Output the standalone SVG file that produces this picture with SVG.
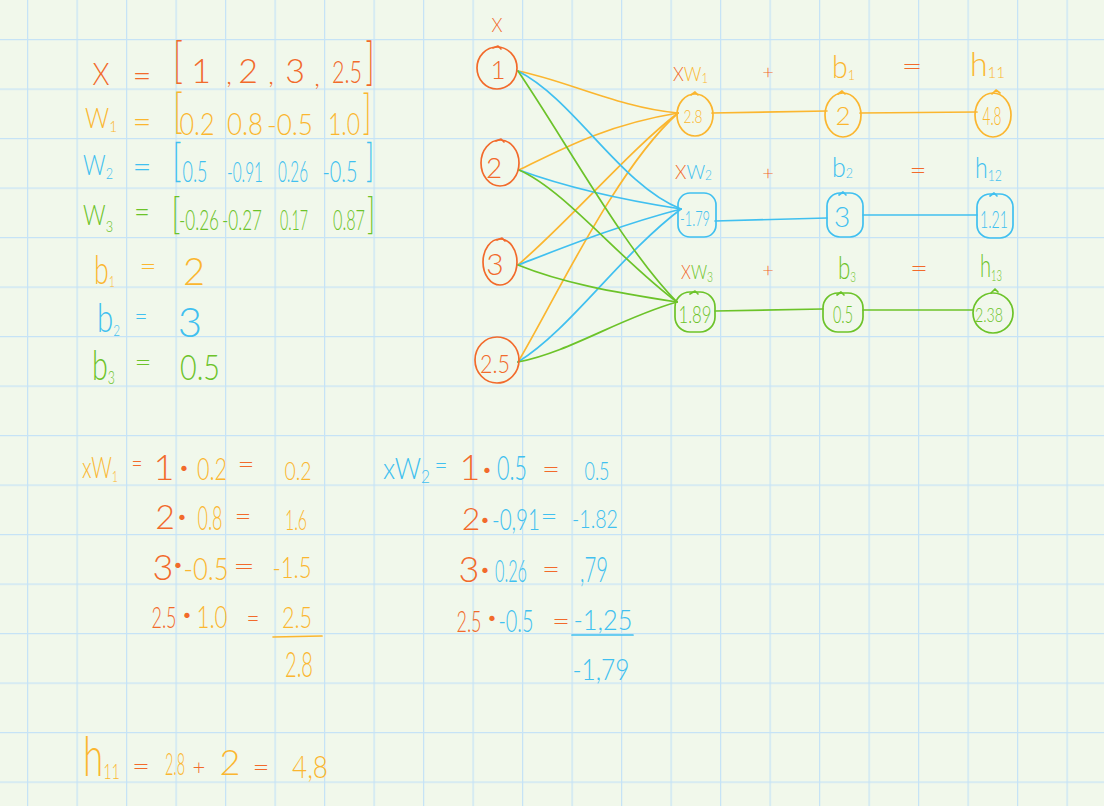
<svg xmlns="http://www.w3.org/2000/svg" width="1104" height="806" viewBox="0 0 1104 806">
<defs>
<pattern id="grid" x="27" y="39" width="49.5" height="49.5" patternUnits="userSpaceOnUse">
<path d="M0.6 0 V49.5 M0 0.6 H49.5" stroke="#c6e3f6" stroke-width="1.3" fill="none"/>
</pattern>
<style>
text{font-family:Lato,"Open Sans","Liberation Sans",sans-serif;font-weight:300}
.o{fill:#f26a2b}.y{fill:#fbb62f}.b{fill:#40c0f0}.g{fill:#6cc329}
.so,.sy,.sb,.sg{fill:none;stroke-width:1.7;stroke-linecap:round;stroke-linejoin:round}
.so{stroke:#f26a2b}.sy{stroke:#fbb62f}.sb{stroke:#40c0f0}.sg{stroke:#6cc329}
.m{text-anchor:middle}
</style>
</defs>
<rect width="1104" height="806" fill="#f1f8eb"/>
<rect width="1104" height="806" fill="url(#grid)"/>

<!-- top-left definitions -->
<g id="defs-x">
<text class="o m" x="101" y="85" font-size="32" textLength="17" lengthAdjust="spacingAndGlyphs">X</text>
<text class="o m" x="142" y="86" font-size="30" textLength="19" lengthAdjust="spacingAndGlyphs">=</text>
<text class="o m" x="178" y="77" font-size="50" textLength="10" lengthAdjust="spacingAndGlyphs">[</text>
<text class="o m" x="201" y="83" font-size="34">1</text>
<text class="o m" x="229" y="84" font-size="26">,</text>
<text class="o m" x="248" y="83" font-size="34">2</text>
<text class="o m" x="271" y="84" font-size="26">,</text>
<text class="o m" x="295" y="83" font-size="34">3</text>
<text class="o m" x="317" y="86" font-size="26">,</text>
<text class="o m" x="347" y="83" font-size="32" textLength="30" lengthAdjust="spacingAndGlyphs">2.5</text>
<text class="o m" x="370" y="79" font-size="52" textLength="9" lengthAdjust="spacingAndGlyphs">]</text>
</g>
<g id="defs-w1">
<text class="y" x="85" y="128" font-size="28" textLength="32" lengthAdjust="spacingAndGlyphs">W<tspan font-size="16" dy="4">1</tspan></text>
<text class="y m" x="142" y="132" font-size="30" textLength="19" lengthAdjust="spacingAndGlyphs">=</text>
<text class="y m" x="178" y="128" font-size="48" textLength="10" lengthAdjust="spacingAndGlyphs">[</text>
<text class="y m" x="197" y="135" font-size="32" textLength="35" lengthAdjust="spacingAndGlyphs">0.2</text>
<text class="y m" x="245" y="135" font-size="32" textLength="36" lengthAdjust="spacingAndGlyphs">0.8</text>
<text class="y m" x="290" y="135" font-size="30" textLength="46" lengthAdjust="spacingAndGlyphs">-0.5</text>
<text class="y m" x="344" y="135" font-size="32" textLength="32" lengthAdjust="spacingAndGlyphs">1.0</text>
<text class="y m" x="367" y="129" font-size="48" textLength="9" lengthAdjust="spacingAndGlyphs">]</text>
</g>
<g id="defs-w2">
<text class="b" x="83" y="175" font-size="28" textLength="30" lengthAdjust="spacingAndGlyphs">W<tspan font-size="16" dy="4">2</tspan></text>
<text class="b m" x="142" y="177" font-size="30" textLength="19" lengthAdjust="spacingAndGlyphs">=</text>
<text class="b m" x="177" y="176" font-size="46" textLength="9" lengthAdjust="spacingAndGlyphs">[</text>
<text class="b m" x="195" y="182" font-size="30" textLength="25" lengthAdjust="spacingAndGlyphs">0.5</text>
<text class="b m" x="245" y="182" font-size="28" textLength="36" lengthAdjust="spacingAndGlyphs">-0.91</text>
<text class="b m" x="293" y="182" font-size="30" textLength="30" lengthAdjust="spacingAndGlyphs">0.26</text>
<text class="b m" x="340" y="182" font-size="30" textLength="35" lengthAdjust="spacingAndGlyphs">-0.5</text>
<text class="b m" x="370" y="176" font-size="46" textLength="8" lengthAdjust="spacingAndGlyphs">]</text>
</g>
<g id="defs-w3">
<text class="g" x="83" y="225" font-size="28" textLength="30" lengthAdjust="spacingAndGlyphs">W<tspan font-size="16" dy="7">3</tspan></text>
<text class="g m" x="142" y="222" font-size="30" textLength="16" lengthAdjust="spacingAndGlyphs">=</text>
<text class="g m" x="176" y="229" font-size="44" textLength="9" lengthAdjust="spacingAndGlyphs">[</text>
<text class="g m" x="199" y="230" font-size="28" textLength="40" lengthAdjust="spacingAndGlyphs">-0.26</text>
<text class="g m" x="242" y="230" font-size="28" textLength="40" lengthAdjust="spacingAndGlyphs">-0.27</text>
<text class="g m" x="294" y="230" font-size="28" textLength="28" lengthAdjust="spacingAndGlyphs">0.17</text>
<text class="g m" x="349" y="230" font-size="28" textLength="32" lengthAdjust="spacingAndGlyphs">0.87</text>
<text class="g m" x="371" y="229" font-size="44" textLength="8" lengthAdjust="spacingAndGlyphs">]</text>
</g>
<g id="defs-b">
<text class="y" x="94" y="284" font-size="40" textLength="21" lengthAdjust="spacingAndGlyphs">b<tspan font-size="16" dy="3">1</tspan></text>
<text class="y m" x="148" y="276" font-size="28" textLength="17" lengthAdjust="spacingAndGlyphs">=</text>
<text class="y m" x="194" y="285" font-size="38">2</text>
<text class="b" x="97" y="332" font-size="40" textLength="23" lengthAdjust="spacingAndGlyphs">b<tspan font-size="16" dy="4">2</tspan></text>
<text class="b m" x="141" y="326" font-size="28" textLength="13" lengthAdjust="spacingAndGlyphs">=</text>
<text class="b m" x="190" y="337" font-size="42">3</text>
<text class="g" x="92" y="380" font-size="42" textLength="23" lengthAdjust="spacingAndGlyphs">b<tspan font-size="18" dy="4">3</tspan></text>
<text class="g m" x="143" y="372" font-size="28" textLength="17" lengthAdjust="spacingAndGlyphs">=</text>
<text class="g m" x="200" y="380" font-size="36" textLength="40" lengthAdjust="spacingAndGlyphs">0.5</text>
</g>

<!-- connectors -->
<g id="connectors">
<path class="sy" d="M518 71 C565 80 620 108 678 113"/>
<path class="sy" d="M519 170 C560 150 605 125 678 113"/>
<path class="sy" d="M518 265 C575 215 630 150 678 113"/>
<path class="sy" d="M518 362 C555 300 615 170 678 113"/>
<path class="sb" d="M518 71 C575 100 620 185 681 209"/>
<path class="sb" d="M519 170 C560 185 610 198 681 209"/>
<path class="sb" d="M518 265 C570 245 620 225 681 209"/>
<path class="sb" d="M518 362 C570 330 620 255 681 209"/>
<path class="sg" d="M518 71 C565 140 625 250 677 302"/>
<path class="sg" d="M519 170 C565 190 620 260 677 302"/>
<path class="sg" d="M518 265 C560 282 610 292 677 302"/>
<path class="sg" d="M518 362 C570 352 620 318 677 302"/>
<path class="sy" d="M712 113 L827 111"/>
<path class="sy" d="M860 113 L977 112"/>
<path class="sb" d="M715 221 L827 218"/>
<path class="sb" d="M863 215 L977 215"/>
<path class="sg" d="M715 311 L823 309"/>
<path class="sg" d="M863 310 L973 310"/>
</g>

<!-- input nodes -->
<text class="o m" x="497" y="32" font-size="20" textLength="11" lengthAdjust="spacingAndGlyphs">X</text>
<g id="in1">
<ellipse class="so" cx="497" cy="68" rx="20" ry="21"/>
<path class="so" d="M493 48 l5 -2 l3 3"/>
<text class="o m" x="498" y="79" font-size="26">1</text>
</g>
<g id="in2">
<ellipse class="so" cx="500" cy="163" rx="19" ry="23"/>
<path class="so" d="M496 141 l5 -2 l3 3"/>
<text class="o m" x="494" y="178" font-size="28">2</text>
</g>
<g id="in3">
<ellipse class="so" cx="500" cy="262" rx="17" ry="23"/>
<path class="so" d="M497 240 l5 -2 l3 3"/>
<text class="o m" x="495" y="275" font-size="30">3</text>
</g>
<g id="in4">
<ellipse class="so" cx="497" cy="360" rx="22" ry="23"/>
<text class="o m" x="495" y="373" font-size="26" textLength="30" lengthAdjust="spacingAndGlyphs">2.5</text>
</g>

<!-- hidden row labels -->
<g id="labels">
<text x="673" y="81" font-size="20" textLength="35" lengthAdjust="spacingAndGlyphs"><tspan class="o">X</tspan><tspan class="y">W</tspan><tspan class="y" font-size="13" dy="2">1</tspan></text>
<text class="o m" x="768" y="79" font-size="20">+</text>
<text x="832" y="78" font-size="32" textLength="23" lengthAdjust="spacingAndGlyphs" class="y">b<tspan font-size="14" dy="2">1</tspan></text>
<text class="o m" x="912" y="75" font-size="26" textLength="21" lengthAdjust="spacingAndGlyphs">=</text>
<text x="970" y="76" font-size="34" textLength="35" lengthAdjust="spacingAndGlyphs" class="y">h<tspan font-size="16" dy="2">11</tspan></text>

<text x="675" y="179" font-size="20" textLength="37" lengthAdjust="spacingAndGlyphs"><tspan class="o">X</tspan><tspan class="b">W</tspan><tspan class="b" font-size="13" dy="1">2</tspan></text>
<text class="o m" x="768" y="180" font-size="20">+</text>
<text x="832" y="177" font-size="28" textLength="21" lengthAdjust="spacingAndGlyphs" class="b">b<tspan font-size="14" dy="1">2</tspan></text>
<text class="o m" x="918" y="179" font-size="24" textLength="17" lengthAdjust="spacingAndGlyphs">=</text>
<text x="975" y="178" font-size="30" textLength="27" lengthAdjust="spacingAndGlyphs" class="b">h<tspan font-size="16" dy="3">12</tspan></text>

<text x="681" y="279" font-size="20" textLength="32" lengthAdjust="spacingAndGlyphs"><tspan class="o">X</tspan><tspan class="g">W</tspan><tspan class="g" font-size="13" dy="3">3</tspan></text>
<text class="o m" x="768" y="277" font-size="20">+</text>
<text x="838" y="279" font-size="32" textLength="18" lengthAdjust="spacingAndGlyphs" class="g">b<tspan font-size="14" dy="3">3</tspan></text>
<text class="o m" x="919" y="277" font-size="24" textLength="18" lengthAdjust="spacingAndGlyphs">=</text>
<text x="980" y="277" font-size="32" textLength="22" lengthAdjust="spacingAndGlyphs" class="g">h<tspan font-size="15" dy="4">13</tspan></text>
</g>

<!-- hidden / bias / output nodes -->
<g id="xw1">
<ellipse class="sy" cx="695" cy="115" rx="18" ry="21"/>
<path class="sy" d="M691 95 l4 -3 l3 3"/>
<text class="y m" x="693" y="123" font-size="18" textLength="19" lengthAdjust="spacingAndGlyphs">2.8</text>
</g>
<g id="xw2">
<rect class="sb" x="678" y="193" width="38" height="44" rx="12"/>
<text class="b m" x="695" y="226" font-size="22" textLength="30" lengthAdjust="spacingAndGlyphs">-1.79</text>
</g>
<g id="xw3">
<rect class="sg" x="675" y="292" width="40" height="40" rx="15"/>
<path class="sg" d="M690 294 l5 -3 l3 3"/>
<text class="g m" x="695" y="323" font-size="24" textLength="33" lengthAdjust="spacingAndGlyphs">1.89</text>
</g>
<g id="b1">
<ellipse class="sy" cx="843" cy="115" rx="18" ry="22"/>
<path class="sy" d="M838 94 l4 -3 l3 3"/>
<text class="y m" x="843" y="125" font-size="26">2</text>
</g>
<g id="b2">
<rect class="sb" x="827" y="193" width="36" height="44" rx="13"/>
<path class="sb" d="M839 195 l4 -3 l3 3"/>
<text class="b m" x="842" y="227" font-size="28">3</text>
</g>
<g id="b3">
<rect class="sg" x="823" y="293" width="40" height="39" rx="15"/>
<path class="sg" d="M837 295 l4 -3 l3 3"/>
<text class="g m" x="843" y="323" font-size="24" textLength="20" lengthAdjust="spacingAndGlyphs">0.5</text>
</g>
<g id="h11">
<ellipse class="sy" cx="993" cy="115" rx="18" ry="22"/>
<path class="sy" d="M992 94 l4 -4 l4 3"/>
<text class="y m" x="992" y="125" font-size="26" textLength="19" lengthAdjust="spacingAndGlyphs">4.8</text>
</g>
<g id="h12">
<rect class="sb" x="977" y="194" width="36" height="44" rx="13"/>
<path class="sb" d="M990 196 l4 -3 l3 3"/>
<text class="b m" x="994" y="228" font-size="24" textLength="28" lengthAdjust="spacingAndGlyphs">1.21</text>
</g>
<g id="h13">
<ellipse class="sg" cx="993" cy="313" rx="20" ry="20"/>
<path class="sg" d="M991 293 l4 -4 l3 3"/>
<text class="g m" x="989" y="322" font-size="20" textLength="28" lengthAdjust="spacingAndGlyphs">2.38</text>
</g>

<!-- xW1 calculation -->
<g id="calc-w1">
<text x="82" y="478" font-size="30" textLength="36" lengthAdjust="spacingAndGlyphs" class="y">xW<tspan font-size="16" dy="4">1</tspan></text>
<text class="o m" x="137" y="472" font-size="26" textLength="11" lengthAdjust="spacingAndGlyphs">=</text>
<text class="o m" x="164" y="480" font-size="36">1</text>
<text class="o m" x="184" y="474" font-size="18">•</text>
<text class="y m" x="212" y="480" font-size="32" textLength="30" lengthAdjust="spacingAndGlyphs">0.2</text>
<text class="o m" x="246" y="474" font-size="28" textLength="17" lengthAdjust="spacingAndGlyphs">=</text>
<text class="y m" x="298" y="480" font-size="26" textLength="27" lengthAdjust="spacingAndGlyphs">0.2</text>

<text class="o m" x="165" y="529" font-size="34">2</text>
<text class="o m" x="182" y="523" font-size="18">•</text>
<text class="y m" x="210" y="530" font-size="34" textLength="25" lengthAdjust="spacingAndGlyphs">0.8</text>
<text class="o m" x="243" y="526" font-size="28" textLength="17" lengthAdjust="spacingAndGlyphs">=</text>
<text class="y m" x="296" y="530" font-size="28" textLength="22" lengthAdjust="spacingAndGlyphs">1.6</text>

<text class="o m" x="163" y="580" font-size="36">3</text>
<text class="o m" x="178" y="571" font-size="18">•</text>
<text class="y m" x="206" y="580" font-size="32" textLength="45" lengthAdjust="spacingAndGlyphs">-0.5</text>
<text class="o m" x="244" y="576" font-size="28" textLength="22" lengthAdjust="spacingAndGlyphs">=</text>
<text class="y m" x="292" y="578" font-size="30" textLength="39" lengthAdjust="spacingAndGlyphs">-1.5</text>

<text class="o m" x="164" y="628" font-size="30" textLength="25" lengthAdjust="spacingAndGlyphs">2.5</text>
<text class="o m" x="187" y="621" font-size="18">•</text>
<text class="y m" x="212" y="628" font-size="32" textLength="31" lengthAdjust="spacingAndGlyphs">1.0</text>
<text class="o m" x="253" y="627" font-size="26" textLength="13" lengthAdjust="spacingAndGlyphs">=</text>
<text class="y m" x="297" y="628" font-size="30" textLength="30" lengthAdjust="spacingAndGlyphs">2.5</text>
<path class="sy" d="M273 637 L322 636"/>
<text class="y m" x="299" y="677" font-size="36" textLength="28" lengthAdjust="spacingAndGlyphs">2.8</text>
</g>

<!-- xW2 calculation -->
<g id="calc-w2">
<text x="383" y="479" font-size="30" textLength="47" lengthAdjust="spacingAndGlyphs" class="b">xW<tspan font-size="18" dy="4">2</tspan></text>
<text class="b m" x="441" y="474" font-size="26" textLength="13" lengthAdjust="spacingAndGlyphs">=</text>
<text class="o m" x="470" y="480" font-size="36">1</text>
<text class="o m" x="487" y="476" font-size="18">•</text>
<text class="b m" x="512" y="480" font-size="34" textLength="30" lengthAdjust="spacingAndGlyphs">0.5</text>
<text class="o m" x="551" y="479" font-size="28" textLength="18" lengthAdjust="spacingAndGlyphs">=</text>
<text class="b m" x="597" y="480" font-size="26" textLength="25" lengthAdjust="spacingAndGlyphs">0.5</text>

<text class="o m" x="471" y="530" font-size="32">2</text>
<text class="o m" x="485" y="526" font-size="18">•</text>
<text class="b m" x="516" y="530" font-size="30" textLength="48" lengthAdjust="spacingAndGlyphs">-0,91</text>
<text class="b m" x="549" y="526" font-size="28" textLength="17" lengthAdjust="spacingAndGlyphs">=</text>
<text class="b m" x="595" y="528" font-size="26" textLength="46" lengthAdjust="spacingAndGlyphs">-1.82</text>

<text class="o m" x="469" y="582" font-size="36">3</text>
<text class="o m" x="485" y="576" font-size="18">•</text>
<text class="b m" x="511" y="582" font-size="32" textLength="32" lengthAdjust="spacingAndGlyphs">0.26</text>
<text class="o m" x="551" y="579" font-size="28" textLength="18" lengthAdjust="spacingAndGlyphs">=</text>
<text class="b m" x="594" y="582" font-size="36" textLength="28" lengthAdjust="spacingAndGlyphs">,79</text>

<text class="o m" x="469" y="632" font-size="30" textLength="25" lengthAdjust="spacingAndGlyphs">2.5</text>
<text class="o m" x="492" y="624" font-size="18">•</text>
<text class="b m" x="516" y="632" font-size="32" textLength="35" lengthAdjust="spacingAndGlyphs">-0.5</text>
<text class="o m" x="561" y="631" font-size="28" textLength="18" lengthAdjust="spacingAndGlyphs">=</text>
<text class="b m" x="603" y="630" font-size="28" textLength="59" lengthAdjust="spacingAndGlyphs">-1,25</text>
<path class="sb" d="M572 635 L633 635"/>
<text class="b m" x="601" y="680" font-size="30" textLength="57" lengthAdjust="spacingAndGlyphs">-1,79</text>
</g>

<!-- h11 -->
<g id="calc-h11">
<text x="83" y="776" font-size="56" textLength="37" lengthAdjust="spacingAndGlyphs" class="y">h<tspan font-size="22" dy="3">11</tspan></text>
<text class="o m" x="141" y="776" font-size="28" textLength="18" lengthAdjust="spacingAndGlyphs">=</text>
<text class="y m" x="175" y="775" font-size="32" textLength="20" lengthAdjust="spacingAndGlyphs">2.8</text>
<text class="o m" x="199" y="775" font-size="22">+</text>
<text class="y m" x="230" y="775" font-size="36">2</text>
<text class="o m" x="261" y="777" font-size="28" textLength="17" lengthAdjust="spacingAndGlyphs">=</text>
<text class="y m" x="310" y="778" font-size="32" textLength="36" lengthAdjust="spacingAndGlyphs">4,8</text>
</g>
</svg>
